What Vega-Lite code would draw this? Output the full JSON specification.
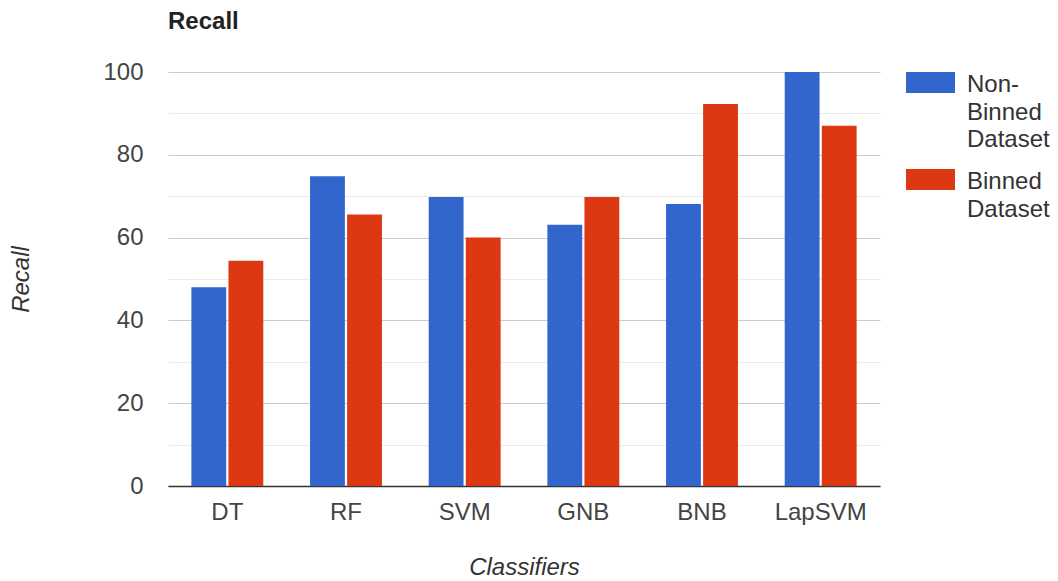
{
  "$schema": "https://vega.github.io/schema/vega-lite/v6.json",
  "autosize": "none",
  "padding": {"left": 168, "top": 72, "right": 178, "bottom": 95},
  "width": 712,
  "height": 414,
  "background": "#ffffff",
  "title": {
    "text": "Recall",
    "anchor": "start",
    "frame": "group",
    "font": "Liberation Sans",
    "fontSize": 24,
    "fontWeight": "bold",
    "color": "#222222",
    "offset": 26
  },
  "data": {
    "values": [
      {"classifier": "DT", "dataset": "Non-Binned Dataset", "recall": 48.0},
      {"classifier": "DT", "dataset": "Binned Dataset", "recall": 54.4},
      {"classifier": "RF", "dataset": "Non-Binned Dataset", "recall": 74.8},
      {"classifier": "RF", "dataset": "Binned Dataset", "recall": 65.6},
      {"classifier": "SVM", "dataset": "Non-Binned Dataset", "recall": 69.8},
      {"classifier": "SVM", "dataset": "Binned Dataset", "recall": 60.0},
      {"classifier": "GNB", "dataset": "Non-Binned Dataset", "recall": 63.1},
      {"classifier": "GNB", "dataset": "Binned Dataset", "recall": 69.8},
      {"classifier": "BNB", "dataset": "Non-Binned Dataset", "recall": 68.1},
      {"classifier": "BNB", "dataset": "Binned Dataset", "recall": 92.3},
      {"classifier": "LapSVM", "dataset": "Non-Binned Dataset", "recall": 100.0},
      {"classifier": "LapSVM", "dataset": "Binned Dataset", "recall": 87.0}
    ]
  },
  "mark": {"type": "bar"},
  "encoding": {
    "x": {
      "field": "classifier",
      "type": "nominal",
      "sort": ["DT", "RF", "SVM", "GNB", "BNB", "LapSVM"],
      "scale": {"paddingInner": 0.394, "paddingOuter": 0.197},
      "axis": {
        "title": "Classifiers",
        "titleFont": "Liberation Sans",
        "titleFontSize": 24,
        "titleFontStyle": "italic",
        "titleFontWeight": "normal",
        "titleColor": "#333333",
        "titlePadding": 31,
        "labelFont": "Liberation Sans",
        "labelFontSize": 24,
        "labelColor": "#444444",
        "labelAngle": 0,
        "labelPadding": 14,
        "ticks": false,
        "tickSize": 0,
        "domainColor": "#333333",
        "domainWidth": 1.5,
        "grid": false
      }
    },
    "xOffset": {
      "field": "dataset",
      "type": "nominal",
      "sort": ["Non-Binned Dataset", "Binned Dataset"],
      "scale": {"paddingInner": 0.06, "paddingOuter": 0}
    },
    "y": {
      "field": "recall",
      "type": "quantitative",
      "scale": {"domain": [0, 100], "nice": false},
      "axis": {
        "title": "Recall",
        "titleFont": "Liberation Sans",
        "titleFontSize": 24,
        "titleFontStyle": "italic",
        "titleFontWeight": "normal",
        "titleColor": "#333333",
        "titlePadding": 69,
        "values": [0, 10, 20, 30, 40, 50, 60, 70, 80, 90, 100],
        "labelExpr": "datum.value % 20 === 0 ? datum.label : ''",
        "labelFont": "Liberation Sans",
        "labelFontSize": 24,
        "labelColor": "#444444",
        "labelPadding": 25,
        "ticks": false,
        "domain": false,
        "gridColor": {"condition": {"test": "datum.value % 20 === 0", "value": "#cccccc"}, "value": "#ebebeb"},
        "gridWidth": 1.2
      }
    },
    "color": {
      "field": "dataset",
      "type": "nominal",
      "scale": {"domain": ["Non-Binned Dataset", "Binned Dataset"], "range": ["#3366cc", "#dc3912"]},
      "legend": {
        "title": null,
        "orient": "right",
        "offset": 26,
        "padding": 0,
        "symbolType": "M-1,-0.43L1,-0.43L1,0.43L-1,0.43Z",
        "symbolSize": 2401,
        "symbolStrokeWidth": 0,
        "symbolOpacity": 1,
        "labelFont": "Liberation Sans",
        "labelFontSize": 24,
        "labelColor": "#333333",
        "labelOffset": 12,
        "labelLimit": 300,
        "labelBaseline": "top",
        "rowPadding": 16,
        "labelExpr": "datum.label === 'Non-Binned Dataset' ? ['Non-', 'Binned', 'Dataset'] : ['Binned', 'Dataset']",
        "encode": {
          "labels": {"update": {"y": {"value": 1}, "lineHeight": {"value": 27.5}}},
          "symbols": {"update": {"y": {"value": 10.5}}}
        }
      }
    }
  },
  "config": {
    "view": {"stroke": null}
  }
}
